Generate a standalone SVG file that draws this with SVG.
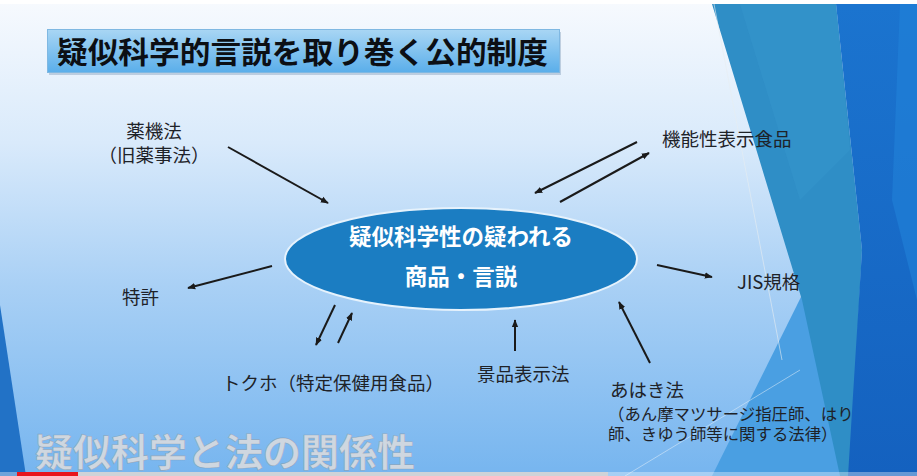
<svg xmlns="http://www.w3.org/2000/svg" width="917" height="476" viewBox="0 0 917 476">
  <defs>
    <linearGradient id="bg" x1="0" y1="0" x2="0" y2="1">
      <stop offset="0" stop-color="#f7fafe"/>
      <stop offset="0.3" stop-color="#d9eafb"/>
      <stop offset="0.6" stop-color="#a9d0f5"/>
      <stop offset="1" stop-color="#76b5ef"/>
    </linearGradient>
    <linearGradient id="titleFill" x1="0" y1="0" x2="0" y2="1">
      <stop offset="0" stop-color="#a9d6f4"/>
      <stop offset="1" stop-color="#5aaeea"/>
    </linearGradient>
    <linearGradient id="rightBlue" x1="0" y1="0" x2="0" y2="1">
      <stop offset="0" stop-color="#1b74cf"/>
      <stop offset="1" stop-color="#1461bf"/>
    </linearGradient>
    <marker id="head" viewBox="0 0 10 10" refX="9" refY="5" markerWidth="8" markerHeight="8" markerUnits="userSpaceOnUse" orient="auto">
      <path d="M0,1 L10,5 L0,9 Z" fill="#1a1a1a"/>
    </marker>
  </defs>
  <style>
    .lbl { font-family: "Noto Sans CJK JP", "Noto Sans", sans-serif; font-size: 18.5px; fill: #1e2228; }
    .small { font-size: 16.4px; }
    .conn line { stroke: #1a1a1a; stroke-width: 2; marker-end: url(#head); }
  </style>

  <!-- slide background -->
  <rect x="0" y="0" width="917" height="476" fill="url(#bg)"/>
  <rect x="0" y="0" width="917" height="4" fill="#ffffff"/>

  <!-- facet decoration, right side -->
  <polygon points="802,295 712,476 860,476 850,330" fill="#4a9fe2"/>
  <polygon points="712,4 836,4 862,250 850,476 840,476 802,300" fill="#2f8ec6"/>
  <polygon points="740,4 836,4 850,150 800,200" fill="#3595cb" opacity="0.6"/>
  <polygon points="836,4 917,4 917,476 848,476 862,250" fill="url(#rightBlue)"/>
  <polygon points="900,4 917,4 917,300 892,200" fill="#2182d8" opacity="0.6"/>
  <line x1="714" y1="4" x2="782" y2="360" stroke="#e8eef2" stroke-width="1" opacity="0.6"/>
  <line x1="625" y1="476" x2="800" y2="370" stroke="#e8f2fa" stroke-width="1" opacity="0.5"/>

  <!-- facet decoration, left edge -->
  <polygon points="0,305 26,476 0,476" fill="#2272c6"/>

  <!-- title -->
  <g id="title">
    <rect x="49" y="32" width="512" height="43" fill="#6a8aa8" opacity="0.35"/>
    <rect x="47.5" y="29.5" width="512" height="43" fill="url(#titleFill)" stroke="#7fb8e2" stroke-width="1"/>
    <text x="57" y="63" font-family="'Noto Sans CJK JP', sans-serif" font-size="30" font-weight="bold" fill="#0c0f14" textLength="491" lengthAdjust="spacingAndGlyphs">疑似科学的言説を取り巻く公的制度</text>
  </g>

  <!-- connectors -->
  <g id="connectors" class="conn">
    <line x1="228" y1="147" x2="328" y2="203"/>
    <line x1="272" y1="266" x2="188" y2="288"/>
    <line x1="335" y1="305" x2="316" y2="345"/>
    <line x1="338" y1="343" x2="352" y2="313"/>
    <line x1="637" y1="142" x2="535" y2="193"/>
    <line x1="560" y1="202" x2="649" y2="153"/>
    <line x1="657" y1="265" x2="712" y2="277"/>
    <line x1="515" y1="351" x2="515" y2="320"/>
    <line x1="650" y1="363" x2="619" y2="302"/>
  </g>

  <!-- central node -->
  <g id="node-center">
    <ellipse cx="461" cy="259" rx="176" ry="51" fill="#1b7dc2" stroke="#e6f2fc" stroke-width="2"/>
    <text x="461" y="245" text-anchor="middle" font-family="'Noto Sans CJK JP', sans-serif" font-size="22.5" font-weight="bold" fill="#ffffff">疑似科学性の疑われる</text>
    <text x="461" y="285" text-anchor="middle" font-family="'Noto Sans CJK JP', sans-serif" font-size="22.5" font-weight="bold" fill="#ffffff">商品・言説</text>
  </g>

  <!-- surrounding nodes -->
  <g id="node-yakkiho">
    <text class="lbl" x="154" y="138" text-anchor="middle">薬機法</text>
    <text class="lbl" x="154" y="162" text-anchor="middle">（旧薬事法）</text>
  </g>
  <g id="node-tokkyo">
    <text class="lbl" x="122" y="304">特許</text>
  </g>
  <g id="node-tokuho">
    <text class="lbl" x="222" y="390">トクホ（特定保健用食品）</text>
  </g>
  <g id="node-keihin">
    <text class="lbl" x="477" y="381">景品表示法</text>
  </g>
  <g id="node-ahaki">
    <text class="lbl" x="610" y="397">あはき法</text>
    <text class="lbl small" x="608" y="420">（あん摩マツサージ指圧師、はり</text>
    <text class="lbl small" x="608" y="440">師、きゆう師等に関する法律）</text>
  </g>
  <g id="node-jis">
    <text class="lbl" x="737" y="289">JIS規格</text>
  </g>
  <g id="node-kinousei">
    <text class="lbl" x="662" y="146">機能性表示食品</text>
  </g>

  <!-- section caption -->
  <text x="35" y="466" font-family="'Noto Sans CJK JP', sans-serif" font-size="38" font-weight="bold" fill="#cfd7e0" stroke="#7d8a98" stroke-width="0.6" stroke-opacity="0.5" textLength="380" lengthAdjust="spacingAndGlyphs">疑似科学と法の関係性</text>

  <!-- playback bar -->
  <rect x="0" y="472" width="917" height="4" fill="#ffffff" opacity="0.35"/>
  <rect x="78" y="472" width="530" height="4" fill="#cfd3d8"/>
  <rect x="17" y="472" width="61" height="4" fill="#e8141c"/>
</svg>
